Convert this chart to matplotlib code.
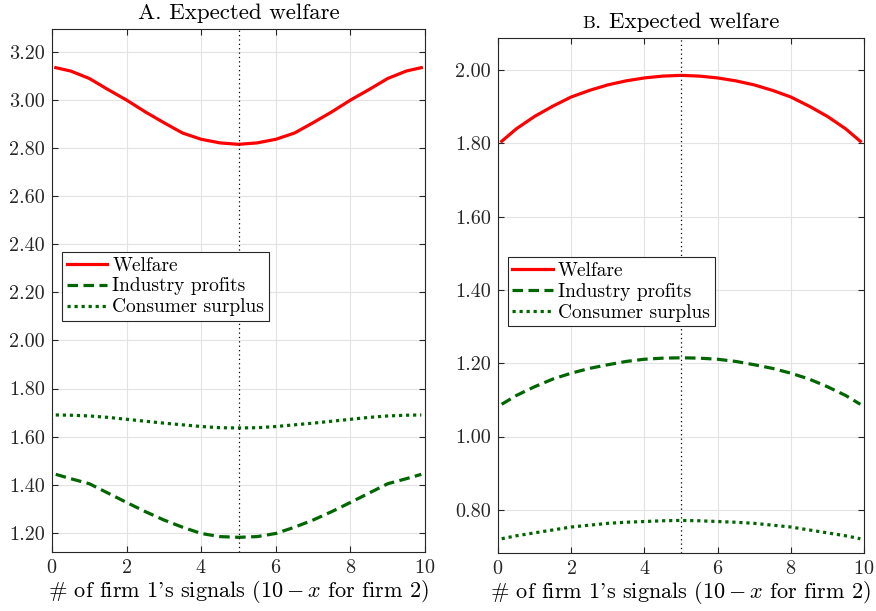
import numpy as np
import matplotlib
matplotlib.use("Agg")
from matplotlib import pyplot as plt
from matplotlib.offsetbox import TextArea, HPacker, AnnotationBbox

plt.rcParams['font.family'] = 'serif'
plt.rcParams['font.serif'] = ['cmr10', 'DejaVu Serif']
plt.rcParams['mathtext.fontset'] = 'cm'
plt.rcParams['axes.formatter.use_mathtext'] = True

# signal counts for firm 1
x = [0.1, 0.5, 1, 1.5, 2, 2.5, 3, 3.5, 4, 4.5, 5,
     5.5, 6, 6.5, 7, 7.5, 8, 8.5, 9, 9.5, 9.9]

# panel A
welfare_a = [3.135, 3.121, 3.090, 3.044, 3.000, 2.951, 2.906, 2.863, 2.837, 2.822, 2.816,
             2.822, 2.837, 2.863, 2.906, 2.951, 3.000, 3.044, 3.090, 3.121, 3.135]
profits_a = [1.443, 1.425, 1.404, 1.365, 1.326, 1.288, 1.253, 1.223, 1.197, 1.184, 1.181,
             1.184, 1.197, 1.223, 1.253, 1.288, 1.326, 1.365, 1.404, 1.425, 1.443]
surplus_a = [1.690, 1.689, 1.686, 1.680, 1.672, 1.664, 1.656, 1.649, 1.642, 1.637, 1.636,
             1.637, 1.642, 1.649, 1.656, 1.664, 1.672, 1.680, 1.686, 1.689, 1.690]

# panel B
welfare_b = [1.806, 1.840, 1.874, 1.902, 1.927, 1.945, 1.960, 1.971, 1.979, 1.984, 1.986,
             1.984, 1.979, 1.971, 1.960, 1.945, 1.927, 1.902, 1.874, 1.840, 1.806]
profits_b = [1.088, 1.112, 1.136, 1.157, 1.173, 1.186, 1.196, 1.205, 1.211, 1.214, 1.215,
             1.214, 1.211, 1.205, 1.196, 1.186, 1.173, 1.157, 1.136, 1.112, 1.088]
surplus_b = [0.721, 0.729, 0.737, 0.745, 0.753, 0.758, 0.763, 0.766, 0.768, 0.770, 0.771,
             0.770, 0.768, 0.766, 0.763, 0.758, 0.753, 0.745, 0.737, 0.729, 0.721]

red = (1, 0, 0)
green = (0, 0.4, 0)

fig = plt.figure(figsize=(8.76, 6.11), dpi=100)
axA = fig.add_axes([0.0594, 0.0966, 0.4258, 0.856])
axB = fig.add_axes([0.5685, 0.0949, 0.4178, 0.8429])

def draw(ax, w, p, s, ylim, yticks, leg_top):
    ax.plot(x, w, color=red, lw=2.3, label='Welfare')
    ax.plot(x, p, color=green, lw=2.3, ls=(0, (3.3, 1.7)), label='Industry profits')
    ax.plot(x, s, color=green, lw=2.3, ls=(0, (1, 1.2)), label='Consumer surplus')
    ax.axvline(5, color='black', lw=0.9, ls=(0, (1, 2.5)))
    ax.set_xlim(0, 10)
    ax.set_ylim(*ylim)
    ax.set_xticks([0, 2, 4, 6, 8, 10])
    ax.set_yticks(yticks)
    ax.set_yticklabels(['%.2f' % v for v in yticks])
    ax.grid(True, color='#e3e3e3', lw=0.8)
    ax.set_axisbelow(True)
    ax.tick_params(direction='in', top=True, right=True, length=4,
                   labelsize=14.5, color='#262626', labelcolor='#262626', pad=5)
    for sp in ax.spines.values():
        sp.set_color('#262626')
        sp.set_linewidth(0.8)
    ax.set_xlabel(r"# of firm 1's signals ($10 - x$ for firm 2)", fontsize=16, labelpad=1)
    leg = ax.legend(loc='upper left', bbox_to_anchor=(0.026, leg_top), fontsize=14,
                    fancybox=False, framealpha=1, edgecolor='#262626',
                    borderpad=0.25, labelspacing=0.15, handlelength=2.1,
                    handletextpad=0.25, borderaxespad=0)
    leg.get_frame().set_linewidth(0.8)

draw(axA, welfare_a, profits_a, surplus_a, (1.12, 3.296),
     [1.2, 1.4, 1.6, 1.8, 2.0, 2.2, 2.4, 2.6, 2.8, 3.0, 3.2], 0.574)
draw(axB, welfare_b, profits_b, surplus_b, (0.682, 2.088),
     [0.8, 1.0, 1.2, 1.4, 1.6, 1.8, 2.0], 0.575)

axA.set_title('A. Expected welfare', fontsize=16.5, pad=7)

# small-caps B for the second title
tb = HPacker(children=[TextArea('B', textprops=dict(size=13, family='serif')),
                       TextArea('. Expected welfare', textprops=dict(size=16.5, family='serif'))],
             align='baseline', pad=0, sep=0)
ab = AnnotationBbox(tb, (0.5, 1.0), xycoords='axes fraction', box_alignment=(0.5, 0),
                    xybox=(0, 4), boxcoords='offset points', frameon=False, pad=0)
axB.add_artist(ab)

fig.savefig('out.png', dpi=100)
